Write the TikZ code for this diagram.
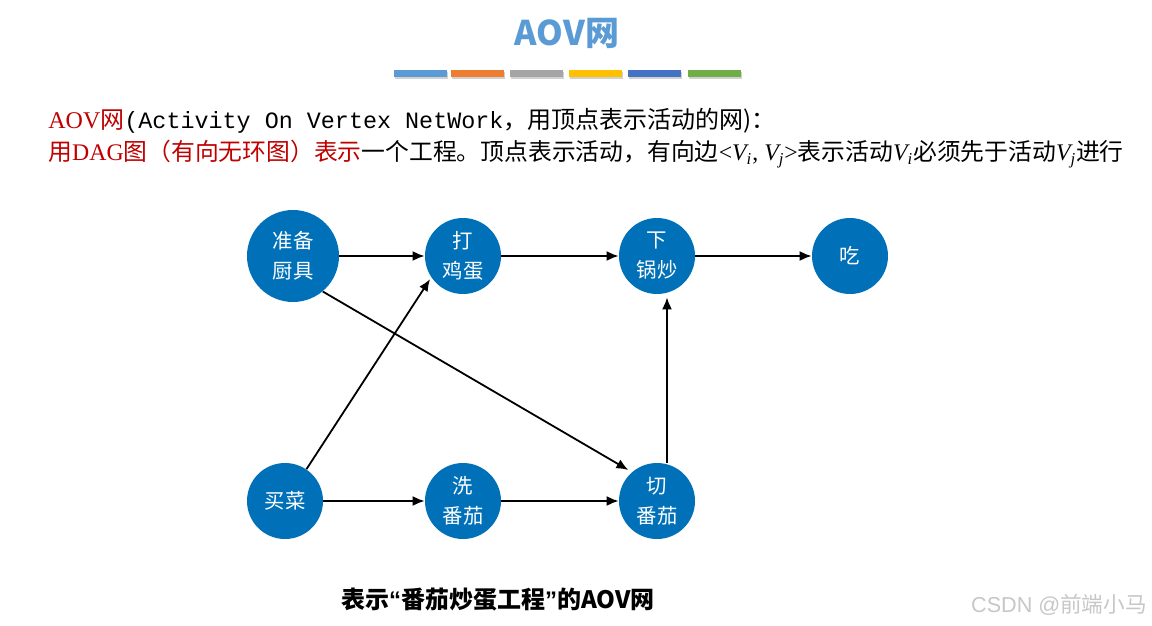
\documentclass[tikz,border=0pt]{standalone}
\usepackage{fontspec}
\usepackage{xcolor}
\usepackage{tikz}
\usetikzlibrary{arrows.meta}
\setmainfont{Liberation Serif}
\newfontfamily\cjk{Noto Sans CJK SC}
\newfontfamily\mono{Liberation Mono}
\newfontfamily\tms{Liberation Serif}
\newfontfamily\arial{Liberation Sans}
\definecolor{aovblue}{RGB}{0,112,185}
\definecolor{titleblue}{RGB}{91,155,213}
\definecolor{aovred}{RGB}{192,0,0}
\definecolor{barA}{RGB}{91,155,213}
\definecolor{barB}{RGB}{237,125,49}
\definecolor{barC}{RGB}{165,165,165}
\definecolor{barD}{RGB}{255,192,0}
\definecolor{barE}{RGB}{68,114,196}
\definecolor{barF}{RGB}{112,173,71}
\newcommand{\Vsub}[1]{{\tms\itshape V\textsubscript{#1}}}

\begin{document}
\begin{tikzpicture}[x=0.5pt,y=0.5pt]
	\tikzstyle{every node}+=[inner sep=0pt]
	\tikzstyle{act}=[circle, fill=aovblue, minimum size=38pt, text=white, align=center, font=\cjk\fontsize{10.2}{15}\selectfont]
	\tikzstyle{arr}=[-{Latex[length=6pt,width=5pt]}, line width=0.9pt, black]
	\useasboundingbox (0,0) rectangle (1152,-626);
	\fill [white] (0,0) rectangle (1152,-626);
	% title and colour bars
	\node [font=\cjk\bfseries\fontsize{17}{20}\selectfont, text=titleblue] (title) at (567,-33) {AOV网};
	\foreach \x/\c in {394/barA,451/barB,510/barC,569/barD,628/barE,688/barF}
	{
		\fill [black!18] (\x+1,-72) rectangle (\x+54,-79);
		\fill [\c] (\x,-70) rectangle (\x+53,-77);
	}
	% the two lines of text
	\node [anchor=base west, font=\fontsize{12}{14}\selectfont] (line1) at (48,-129)
		{\textcolor{aovred}{AOV{\cjk 网}}{\mono\fontsize{11.7}{14}\selectfont(Activity On Vertex NetWork}{\cjk ，用顶点表示活动的网)：}};
	\node [anchor=base west, font=\fontsize{11.9}{14}\selectfont] (line2) at (48,-161)
		{\textcolor{aovred}{{\cjk 用}DAG{\cjk 图（有向无环图）表示}}{\cjk 一个工程。顶点表示活动，有向边}<\Vsub{i}, \Vsub{j}>{\cjk 表示活动}\Vsub{i}{\cjk 必须先于活动}\Vsub{j}{\cjk 进行}};
	% activities
	\node [act, minimum size=46pt] (zb) at (293,-256) {准备\\厨具};
	\node [act] (dj) at (463,-256) {打\\鸡蛋};
	\node [act] (xg) at (657,-256) {下\\锅炒};
	\node [act] (chi) at (850,-256) {吃};
	\node [act] (mc) at (285,-501) {买菜};
	\node [act] (xf) at (463,-501) {洗\\番茄};
	\node [act] (qf) at (657,-501) {切\\番茄};
	% precedences
	\draw [arr] (zb) -- (dj);
	\draw [arr] (dj) -- (xg);
	\draw [arr] (xg) -- (chi);
	\draw [arr] (mc) -- (xf);
	\draw [arr] (xf) -- (qf);
	\draw [arr, shorten >=2pt] (zb.-50) -- (qf.131);
	\draw [arr, shorten >=1pt] (mc.56) -- (dj.214);
	\draw [arr, shorten >=1.5pt] ([xshift=5pt]qf.north) -- ([xshift=5pt]xg.south);
	% caption and mark
	\node [font=\cjk\bfseries\fontsize{12}{14}\selectfont] (caption) at (498,-600) {表示{\arial\bfseries “}番茄炒蛋工程{\arial\bfseries ”}的AOV网};
	\node [font=\arial\fontsize{10.8}{12}\selectfont, text=black!22] (mark) at (1059,-605) {CSDN @{\cjk 前端小马}};
\end{tikzpicture}
\end{document}
